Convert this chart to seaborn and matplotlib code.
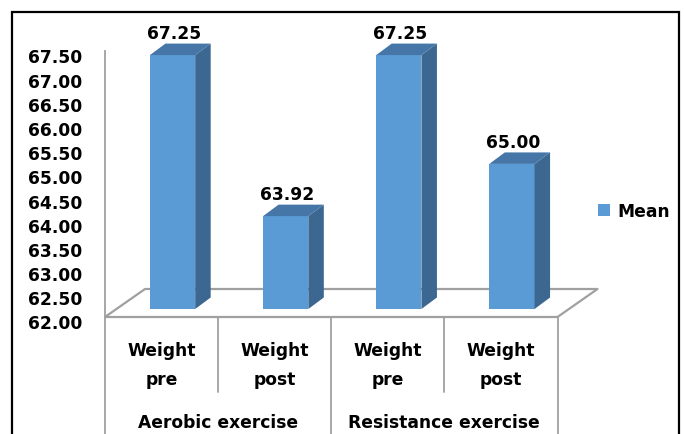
import matplotlib
matplotlib.use("Agg")
import matplotlib.pyplot as plt
from matplotlib.patches import Polygon, Rectangle, Patch
from matplotlib.transforms import ScaledTranslation
import pandas as pd
import seaborn as sns

# ---- data -------------------------------------------------------------
conditions = ["Weight\npre", "Weight\npost", "Weight\npre", "Weight\npost"]
groups = ["Aerobic exercise", "Resistance exercise"]
mean_values = [67.25, 63.92, 67.25, 65.00]
y_ticks = [62.0, 62.5, 63.0, 63.5, 64.0, 64.5, 65.0, 65.5, 66.0, 66.5, 67.0, 67.5]
series_name = "Mean"

# ---- style ------------------------------------------------------------
sns.set_style("white")
plt.rcParams["font.family"] = ["DejaVu Sans"]
plt.rcParams["font.weight"] = "bold"
plt.rcParams["text.color"] = "black"
plt.rcParams["xtick.labelcolor"] = "black"
plt.rcParams["ytick.labelcolor"] = "black"

W, H, DPI = 685, 435, 100
FRONT = "#5B9BD5"
TOP = "#4676A8"
SIDE = "#3B6790"
GRID = "#A0A0A0"
FS = 12.3

fig = plt.figure(figsize=(W / DPI, H / DPI), dpi=DPI)


def fbox(left, top, right, bottom):
    """Figure-fraction box from pixel edges."""
    return [left / W, 1 - bottom / H, (right - left) / W, (bottom - top) / H]


# plot plane (floor front edge and value axis)
ax_l, ax_r, ax_t, ax_b = 105, 557.5, 52, 318
ax = fig.add_axes(fbox(ax_l, ax_t, ax_r, ax_b))
ymin, ymax = y_ticks[0], y_ticks[-1]
ax.set_xlim(-0.5, len(mean_values) - 0.5)
ax.set_ylim(ymin, ymax)
ax.patch.set_alpha(0)

px_x = (ax_r - ax_l) / len(mean_values)      # pixels per category
px_y = (ax_b - ax_t) / (ymax - ymin)         # pixels per value unit

# bar plane sits a little deeper inside the 3-D box
shift_x, shift_y = 11, 8
axb = fig.add_axes(fbox(ax_l + shift_x, ax_t - shift_y, ax_r + shift_x, ax_b - shift_y))
df = pd.DataFrame({"pos": range(len(mean_values)), "value": mean_values})
sns.barplot(data=df, x="pos", y="value", color=FRONT, saturation=1,
            width=0.4, ax=axb, zorder=3, edgecolor="none", linewidth=0)
axb.set_xlim(-0.5, len(mean_values) - 0.5)
axb.set_ylim(ymin, ymax)
axb.axis("off")
axb.patch.set_alpha(0)

# side and top faces of each bar
dep_x, dep_y = 15.5 / px_x, 11.5 / px_y
for bar, val in zip(axb.patches, mean_values):
    x0 = bar.get_x()
    x1 = x0 + bar.get_width()
    side = Polygon([(x1, ymin), (x1, val), (x1 + dep_x, val + dep_y),
                    (x1 + dep_x, ymin + dep_y)],
                   closed=True, facecolor=SIDE, edgecolor="none",
                   clip_on=False, zorder=3)
    top = Polygon([(x0, val), (x1, val), (x1 + dep_x, val + dep_y),
                   (x0 + dep_x, val + dep_y)],
                  closed=True, facecolor=TOP, edgecolor="none",
                  clip_on=False, zorder=3)
    axb.add_patch(side)
    axb.add_patch(top)
    axb.annotate(f"{val:.2f}", xy=(x0 + bar.get_width() / 2, val),
                 xytext=(1.5, 17), textcoords="offset pixels",
                 ha="center", va="baseline", fontsize=FS, fontweight="bold",
                 color="black", annotation_clip=False)

# floor of the 3-D box
fl_x, fl_y = 40 / px_x, 28 / px_y
x_lo, x_hi = -0.5, len(mean_values) - 0.5
ax.plot([x_lo, x_lo + fl_x, x_hi + fl_x, x_hi, x_lo],
        [ymin, ymin + fl_y, ymin + fl_y, ymin, ymin],
        color=GRID, lw=1.6, clip_on=False, zorder=1)

# value axis
for s in ["top", "right", "bottom"]:
    ax.spines[s].set_visible(False)
ax.spines["left"].set_color(GRID)
ax.spines["left"].set_linewidth(1.3)
ax.set_yticks(y_ticks)
ax.set_yticklabels([f"{t:.2f}" for t in y_ticks])
ax.tick_params(axis="y", length=6, width=1.2, color=GRID, pad=10.5,
               labelsize=FS, labelcolor="black")
for lab in ax.get_yticklabels():
    lab.set_fontweight("bold")
    lab.set_color("black")
    lab.set_transform(lab.get_transform() +
                      ScaledTranslation(0, -4.5 / DPI, fig.dpi_scale_trans))

# category labels
ax.set_xticks(range(len(conditions)))
ax.set_xticklabels(conditions, fontsize=FS, fontweight="bold",
                   linespacing=1.8, color="black")
ax.tick_params(axis="x", length=0, pad=17)
ax.set_xlabel("")
ax.set_ylabel("")

# group labels and divider lines of the two-level axis
xt = ax.get_xaxis_transform()
for g, name in enumerate(groups):
    ax.text(2 * g + 0.5, -(423 - ax_b) / (ax_b - ax_t), name,
            transform=xt, ha="center", va="center", fontsize=FS,
            fontweight="bold", color="black", clip_on=False)
inner_end = -(393 - ax_b) / (ax_b - ax_t)
for xd in [0.5, 2.5]:
    ax.plot([xd, xd], [0, inner_end], transform=xt, color=GRID, lw=1.3,
            clip_on=False)
for xd in [-0.5, 1.5, 3.5]:
    ax.plot([xd, xd], [0, -0.6], transform=xt, color=GRID, lw=1.3,
            clip_on=False)

# legend
leg = fig.legend(handles=[Patch(facecolor=FRONT, edgecolor="none")],
                 labels=[series_name], loc="center left",
                 bbox_to_anchor=(598 / W, 1 - 212 / H), frameon=False,
                 prop={"size": FS, "weight": "bold"}, handlelength=0.72,
                 handleheight=0.78, handletextpad=0.42, borderpad=0,
                 borderaxespad=0)
for t in leg.get_texts():
    t.set_color("black")

# chart frame
fig.add_artist(Rectangle((12.5 / W, -0.05), (679 - 12.5) / W,
                         1 - 13 / H + 0.05, transform=fig.transFigure,
                         fill=False, edgecolor="black", lw=1.6))

fig.savefig("out.png", dpi=DPI, facecolor="white")
